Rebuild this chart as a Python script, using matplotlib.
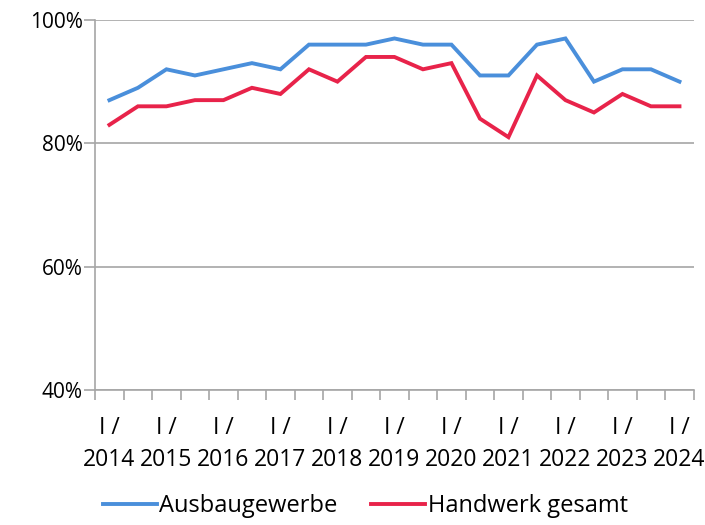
import numpy as np
import matplotlib.pyplot as plt

plt.rcParams['font.family'] = ['Open Sans', 'DejaVu Sans']

years = list(range(2014, 2025))
ausbau = [87, 89, 92, 91, 92, 93, 92, 96, 96, 96, 97, 96, 96, 91, 91, 96, 97, 90, 92, 92, 90]
handwerk = [83, 86, 86, 87, 87, 89, 88, 92, 90, 94, 94, 92, 93, 84, 81, 91, 87, 85, 88, 86, 86]

x = np.arange(len(ausbau))

fig = plt.figure(figsize=(7.05, 5.25), dpi=100)
ax = fig.add_axes([0.135, 0.257, 0.849, 0.705])

ax.plot(x, ausbau, color='#4A8FDB', lw=2.8, label='Ausbaugewerbe', solid_joinstyle='miter')
ax.plot(x, handwerk, color='#E8234A', lw=2.8, label='Handwerk gesamt', solid_joinstyle='miter')

ax.set_xlim(-0.5, len(x) - 0.5)
ax.set_ylim(40, 100)
ax.set_yticks([40, 60, 80, 100])
ax.set_yticklabels([f'{v}%' for v in [40, 60, 80, 100]], fontsize=15)
ax.yaxis.grid(True, color='#A6A6A6', lw=1.2)
ax.set_axisbelow(True)

ax.set_xticks(x[::2])
ax.set_xticklabels([f'I /\n{y}' for y in years], fontsize=16.5, linespacing=1.4)
ax.set_xticks(np.arange(-0.5, len(x), 1), minor=True)
ax.tick_params(axis='x', which='major', length=0, pad=19)
ax.tick_params(axis='x', which='minor', length=7, color='#A6A6A6', width=1.2)
ax.tick_params(axis='y', length=8, color='#A6A6A6', width=1.2, pad=1)

for s in ['top', 'right']:
    ax.spines[s].set_visible(False)
ax.spines['left'].set_color('#A6A6A6')
ax.spines['left'].set_linewidth(1.2)
ax.spines['bottom'].set_color('#A6A6A6')
ax.spines['bottom'].set_linewidth(1.2)

fig.legend(loc='lower center', bbox_to_anchor=(0.518, -0.028), ncol=2, frameon=False,
           fontsize=17, handlelength=2.3, handletextpad=0.1, columnspacing=1.4)

fig.savefig('out.png', dpi=100)
